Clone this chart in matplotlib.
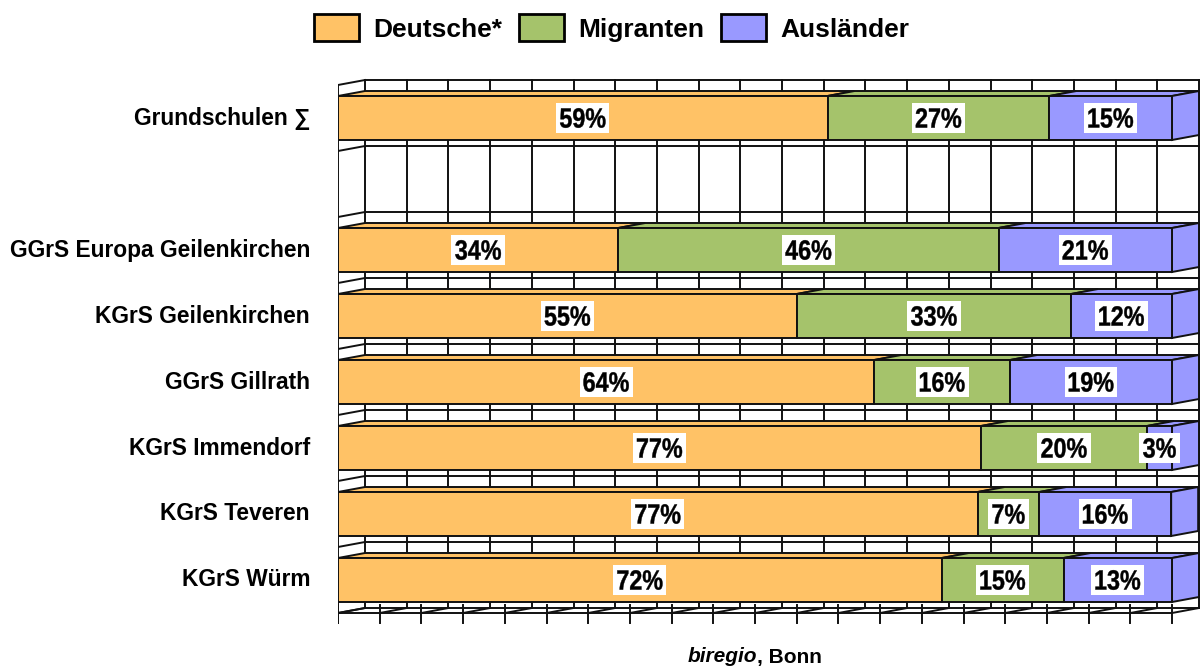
import matplotlib
matplotlib.use("Agg")
import matplotlib.pyplot as plt
from matplotlib.patches import Polygon, Patch, PathPatch, Rectangle
from matplotlib.textpath import TextPath
from matplotlib.font_manager import FontProperties
from matplotlib.transforms import Affine2D, IdentityTransform

# rows listed top to bottom, None = empty slot
schools = ["Grundschulen \u2211", None, "GGrS Europa Geilenkirchen", "KGrS Geilenkirchen",
           "GGrS Gillrath", "KGrS Immendorf", "KGrS Teveren", "KGrS Würm"]
deutsche = [58.7, None, 33.6, 55.0, 64.3, 77.1, 76.7, 72.4]
migranten = [26.6, None, 45.6, 32.9, 16.3, 19.9, 7.4, 14.6]
auslaender = [14.7, None, 20.8, 12.1, 19.4, 3.0, 15.8, 13.0]

series_names = ["Deutsche*", "Migranten", "Ausländer"]
colors = ["#FFC266", "#A5C36B", "#9999FF"]
x_ticks = list(range(0, 101, 5))

plt.rcParams['font.family'] = ['Liberation Sans', 'DejaVu Sans']

W, H = 1200, 670
DPI = 100
fig = plt.figure(figsize=(W / DPI, H / DPI), dpi=DPI)

# pixel geometry of the plot box
px_per_pct = 8.34
slot_px = 66
x0_px, y0_px = 338, 613
xmax, ymin, ymax = 104, -0.2, 8.3
ax = fig.add_axes([x0_px / W, (H - (y0_px - ymin * slot_px)) / H,
                   xmax * px_per_pct / W, (ymax - ymin) * slot_px / H])
ax.set_xlim(0, xmax)
ax.set_ylim(ymin, ymax)
ax.axis("off")

dx = 27 / px_per_pct
dy = 5 / slot_px
n = len(schools)
lc = "#111111"
lw = 1.4

label_font = FontProperties(family="Liberation Sans", weight="bold")


def narrow_label(x, y, s, size_pt=20, squeeze=0.84):
    # condensed bold label with white box, drawn in pixel coords
    tp = TextPath((0, 0), s, size=size_pt * DPI / 72, prop=label_font)
    ext = tp.get_extents()
    cx, cy = ax.transData.transform((x, y))
    w = ext.width * squeeze
    h = ext.height
    tr = Affine2D().translate(-ext.x0 - ext.width / 2, -ext.y0 - ext.height / 2) \
        .scale(squeeze, 1).translate(cx, cy)
    pad = 4
    fig.add_artist(Rectangle((cx - w / 2 - pad, cy - h / 2 - pad - 1), w + 2 * pad, h + 2 * pad + 2,
                             facecolor="white", edgecolor="none",
                             transform=IdentityTransform(), zorder=6))
    fig.add_artist(PathPatch(tr.transform_path(tp), facecolor="black", edgecolor="black",
                             lw=0.3, transform=IdentityTransform(), zorder=7))


# back wall
ax.add_patch(Polygon([(dx, dy), (100 + dx, dy), (100 + dx, n + dy), (dx, n + dy)],
                     closed=True, facecolor="white", edgecolor="none", zorder=0))
for t in x_ticks:
    ax.plot([t + dx, t + dx], [dy, n + dy], color=lc, lw=lw, zorder=1)
    # floor
    ax.plot([t, t + dx], [0, dy], color=lc, lw=lw, zorder=1)
    ax.plot([t, t], [-0.15, 0.12], color=lc, lw=lw, zorder=1)
for i in range(n + 1):
    ax.plot([dx, 100 + dx], [i + dy, i + dy], color=lc, lw=lw, zorder=1)
    ax.plot([0, dx], [i, i + dy], color=lc, lw=lw, zorder=1)
    ax.plot([-1, 0], [i, i], color=lc, lw=lw, zorder=1)
ax.plot([0, 100], [0, 0], color=lc, lw=lw, zorder=1)
ax.plot([0, 0], [-0.15, n], color=lc, lw=lw, zorder=1)

# bars
for r, name in enumerate(schools):
    k = n - 1 - r
    if name is not None:
        ax.text(-28 / px_per_pct, k + 0.5, name, ha="right", va="center",
                fontsize=16.4, fontweight="bold", clip_on=False)
    if deutsche[r] is None:
        continue
    b, t = k + 1 / 6, k + 5 / 6
    vals = [deutsche[r], migranten[r], auslaender[r]]
    left = 0
    for j, v in enumerate(vals):
        right = left + v
        c = colors[j]
        ax.add_patch(Polygon([(left, t), (left + dx, t + dy), (right + dx, t + dy), (right, t)],
                             closed=True, facecolor=c, edgecolor=lc, lw=lw, zorder=3))
        ax.add_patch(Polygon([(left, b), (right, b), (right, t), (left, t)],
                             closed=True, facecolor=c, edgecolor=lc, lw=lw, zorder=4))
        if j == len(vals) - 1:
            ax.add_patch(Polygon([(right, b), (right + dx, b + dy), (right + dx, t + dy), (right, t)],
                                 closed=True, facecolor=c, edgecolor=lc, lw=lw, zorder=3))
        narrow_label((left + right) / 2, (b + t) / 2, f"{v:.0f}%")
        left = right

handles = [Patch(facecolor=c, edgecolor="black", linewidth=2) for c in colors]
fig.legend(handles, series_names, loc="center", bbox_to_anchor=(612 / W, 1 - 28 / H),
           ncol=3, frameon=False, prop=dict(size=19, weight="bold"),
           handlelength=1.67, handleheight=1.2, handletextpad=0.57, columnspacing=0.64)

fig.text(757 / W, 1 - 657 / H, "biregio", ha="right", va="center",
         fontsize=15, fontweight="bold", style="italic")
fig.text(757 / W, 1 - 657 / H, ", Bonn", ha="left", va="center",
         fontsize=15, fontweight="bold")

fig.savefig("out.png", dpi=DPI)
